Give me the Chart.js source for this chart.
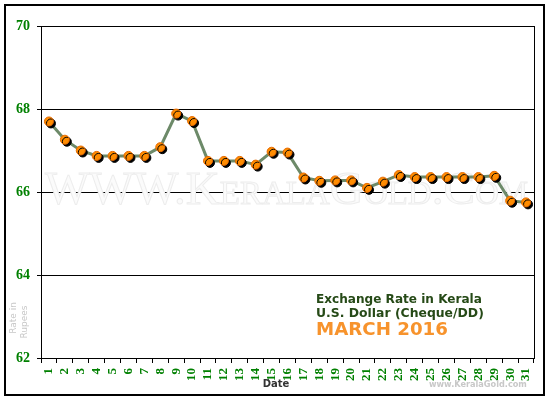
<!DOCTYPE html>
<html><head><meta charset="utf-8">
<script src="https://cdn.jsdelivr.net/npm/chart.js@4.4.0/dist/chart.umd.min.js"></script>
<style>html,body{margin:0;padding:0;background:#fff}#wrap{width:550px;height:400px;position:relative}</style>
</head><body><div id="wrap"><canvas id="c" width="550" height="400"></canvas></div>
<script>
const days = ["1","2","3","4","5","6","7","8","9","10","11","12","13","14","15","16","17","18","19","20","21","22","23","24","25","26","27","28","29","30","31"];
const rates = [67.70,67.26,67.00,66.87,66.87,66.87,66.87,67.08,67.89,67.71,66.75,66.75,66.75,66.66,66.97,66.95,66.35,66.27,66.28,66.28,66.10,66.25,66.41,66.36,66.36,66.36,66.36,66.36,66.39,65.79,65.75];
const yMin = 62, yMax = 70, yStep = 2;
const titleLine1 = "Exchange Rate in Kerala";
const titleLine2 = "U.S. Dollar (Cheque/DD)";
const titleMonth = "MARCH 2016";
const yTitle = ["Rate in", "Rupees"];
const xTitle = "Date";
const watermark = "WWW.KeralaGold.Com";
const credit = "www.KeralaGold.com";

function fitText(ctx, text, width, fam, weight, variant) {
  let size = 30;
  ctx.font = (variant||'') + ' ' + weight + ' ' + size + 'px ' + fam;
  const w = ctx.measureText(text).width;
  size = size * width / w;
  ctx.font = (variant||'') + ' ' + weight + ' ' + size.toFixed(2) + 'px ' + fam;
  return size;
}

const decor = {
  id: 'decor',
  beforeDatasetsDraw(chart) {
    const ctx = chart.ctx;
    ctx.save();
    fitText(ctx, watermark, 483, '"Liberation Serif", serif', 'normal', 'small-caps');
    ctx.textAlign = 'left'; ctx.textBaseline = 'alphabetic';
    ctx.fillStyle = '#fbfbfb';
    ctx.strokeStyle = '#ededed';
    ctx.lineWidth = 1;
    ctx.fillText(watermark, 45, 204);
    ctx.strokeText(watermark, 45, 204);
    ctx.restore();
  },
  beforeDatasetDraw(chart, args) {
    if (args.index === 0) {
      const ctx = chart.ctx;
      ctx.save();
      ctx.shadowColor = '#000';
      ctx.shadowOffsetX = 2;
      ctx.shadowOffsetY = 2;
      ctx.shadowBlur = 0;
    }
  },
  afterDatasetDraw(chart, args) {
    if (args.index === 0) chart.ctx.restore();
  },
  afterDraw(chart) {
    const ctx = chart.ctx;
    const a = chart.chartArea;
    ctx.save();
    ctx.strokeStyle = '#000';
    ctx.lineWidth = 1;
    ctx.beginPath();
    ctx.moveTo(Math.round(a.right) + 0.5, a.top);
    ctx.lineTo(Math.round(a.right) + 0.5, a.bottom);
    ctx.stroke();
    ctx.lineWidth = 2;
    ctx.strokeRect(5, 5, 539, 390);
    ctx.textAlign = 'left'; ctx.textBaseline = 'alphabetic';
    ctx.fillStyle = '#264a17';
    fitText(ctx, titleLine1, 166, '"DejaVu Sans", Verdana, sans-serif', 'bold');
    ctx.fillText(titleLine1, 316, 303);
    fitText(ctx, titleLine2, 168, '"DejaVu Sans", Verdana, sans-serif', 'bold');
    ctx.fillText(titleLine2, 316, 317);
    ctx.fillStyle = '#f7932c';
    fitText(ctx, titleMonth, 132, '"DejaVu Sans", Verdana, sans-serif', 'bold');
    ctx.fillText(titleMonth, 316, 335);
    ctx.fillStyle = '#333';
    ctx.textAlign = 'center'; ctx.textBaseline = 'middle';
    ctx.font = 'bold 10px "DejaVu Sans", sans-serif';
    ctx.fillText(xTitle, 276, 384);
    ctx.fillStyle = '#c8c8c8';
    ctx.textAlign = 'left';
    fitText(ctx, credit, 98, '"DejaVu Sans", Verdana, sans-serif', 'bold');
    ctx.fillText(credit, 429, 385);
    ctx.fillStyle = '#c8c8c8';
    ctx.font = '9px "DejaVu Sans", sans-serif';
    ctx.textAlign = 'center';
    ctx.save(); ctx.translate(14, 318); ctx.rotate(-Math.PI/2); ctx.fillText(yTitle[0], 0, 0); ctx.restore();
    ctx.save(); ctx.translate(24.5, 322); ctx.rotate(-Math.PI/2); ctx.fillText(yTitle[1], 0, 0); ctx.restore();
    ctx.restore();
  }
};

new Chart(document.getElementById('c'), {
  type: 'line',
  data: {
    labels: days,
    datasets: [
      {
        data: rates, showLine: false, order: 0,
        pointRadius: 4.5, pointHoverRadius: 4.5,
        pointBackgroundColor: '#ff8c00', pointBorderColor: '#e66a00', pointBorderWidth: 1
      },
      {
        data: rates, order: 1, tension: 0,
        borderColor: '#6d8a69', borderWidth: 3, pointRadius: 0, fill: false
      }
    ]
  },
  options: {
    responsive: false, animation: false, devicePixelRatio: 1,
    layout: { padding: { top: 26, right: 16, left: 0, bottom: 0 } },
    plugins: { legend: { display: false }, tooltip: { enabled: false }, title: { display: false } },
    scales: {
      x: {
        type: 'category', offset: true,
        grid: { offset: true, drawOnChartArea: false, color: '#000', tickLength: 5, lineWidth: 1 },
        border: { display: true, color: '#000', width: 1 },
        ticks: { color: '#008000', font: { family: '"Liberation Serif", serif', weight: 'bold', size: 13 },
                 minRotation: 90, maxRotation: 90, autoSkip: false, padding: 5 },
        afterFit(s) { s.height = 42; }
      },
      y: {
        min: yMin, max: yMax,
        grid: { color: '#000', tickLength: 4, lineWidth: 1 },
        border: { display: true, color: '#000', width: 1 },
        ticks: { stepSize: yStep, color: '#008000', padding: 7,
                 font: { family: '"Liberation Serif", serif', weight: 'bold', size: 14 } },
        afterFit(s) { s.width = 41; }
      }
    }
  },
  plugins: [decor]
});
</script>
</body></html>
